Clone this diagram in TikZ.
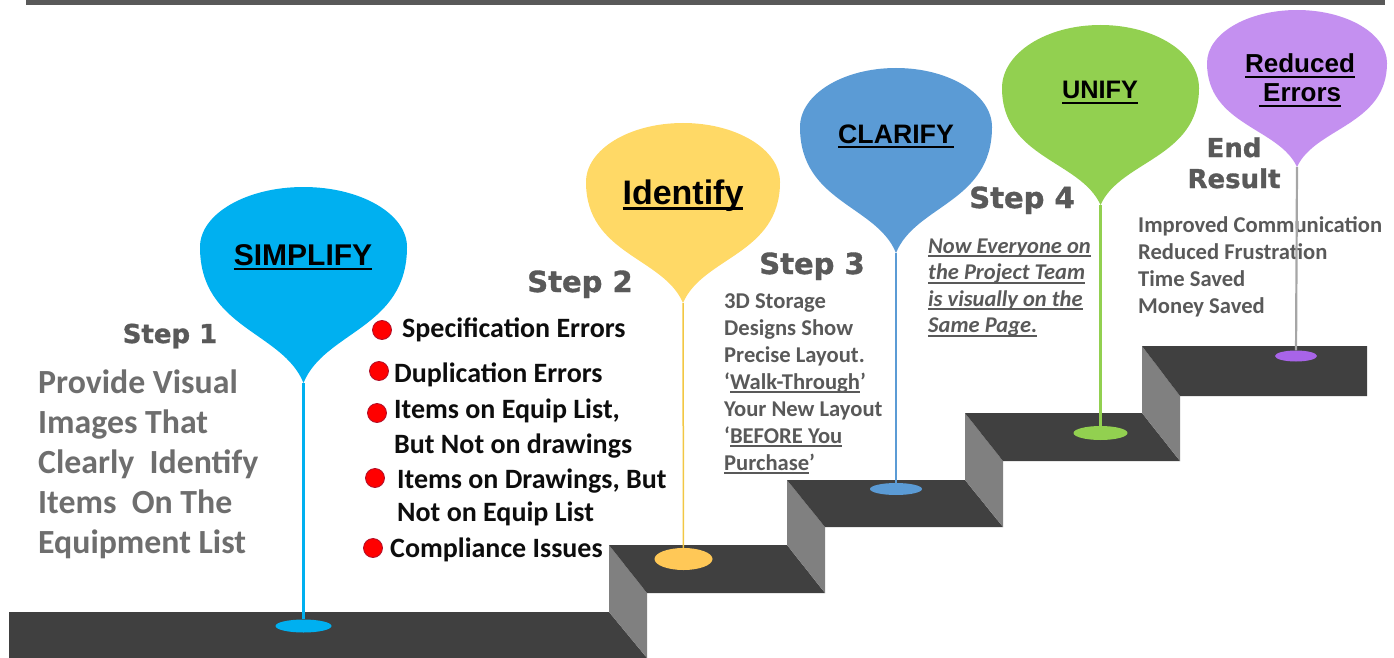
\documentclass[tikz,border=0pt]{standalone}
\usepackage{fontspec}
\setmainfont{Carlito}
\newfontfamily\stepfont{DejaVu Sans}[BoldFeatures={FakeBold=1.2}]
\newfontfamily\pinfont{Liberation Sans}
\usetikzlibrary{positioning,shapes.geometric}
\definecolor{pinsimplify}{HTML}{00B0F0}
\definecolor{pinidentify}{HTML}{FFD966}
\definecolor{spotidentify}{HTML}{FFC857}
\definecolor{stemidentify}{HTML}{F2C744}
\definecolor{pinclarify}{HTML}{5B9BD5}
\definecolor{pinunify}{HTML}{92D050}
\definecolor{pinreduced}{HTML}{C490F0}
\definecolor{spotreduced}{HTML}{A864E8}
\definecolor{stemreduced}{HTML}{A6A6A6}
\definecolor{stairtop}{HTML}{404040}
\definecolor{stairside}{HTML}{808080}
\definecolor{textgray}{HTML}{595959}
\definecolor{softgray}{HTML}{6E6E6E}
\definecolor{bulletred}{HTML}{FF0000}
\definecolor{bulletedge}{HTML}{B0102A}
% underline that scales with the font
\newcommand{\ulbar}[1]{\leavevmode\setbox0=\hbox{#1}\rlap{\vrule height -0.1em depth 0.18em width \wd0}\box0}
% teardrop pin: x, y of widest line, x radius, y radius, tip y, colour
\newcommand{\balloon}[6]{%
  \begin{scope}[shift={(#1,#2)}]
    \fill[#6] (0,{#5-#2}) .. controls ({0.2*#3},{0.62*(#5-#2)}) and (#3,{0.6*(#5-#2)}) .. (#3,0)
      arc[start angle=0, end angle=-180, x radius=#3, y radius=#4]
      .. controls (-#3,{0.6*(#5-#2)}) and ({-0.2*#3},{0.62*(#5-#2)}) .. (0,{#5-#2}) -- cycle;
  \end{scope}}

\begin{document}
\begin{tikzpicture}[x=1pt, y=-1pt,
  steplabel/.style={font=\stepfont\bfseries\fontsize{29}{31}\selectfont, text=textgray, inner sep=0pt},
  pinlabel/.style={text=black, inner sep=0pt, align=center},
  bodytext/.style={font=\bfseries\fontsize{22.6}{26.7}\selectfont, text=textgray, inner sep=0pt, align=left},
  bullettext/.style={font=\bfseries\fontsize{28}{34}\selectfont, text=black!95, inner sep=0pt, align=left},
  bulletdot/.style={circle, fill=bulletred, draw=bulletedge, line width=0.8pt, minimum size=19, inner sep=0pt},
  spot/.style={ellipse, inner sep=0pt},
  stem/.style={line width=2.2pt}]
  \useasboundingbox (0,0) rectangle (1394,658);
  \fill[textgray] (26,0) rectangle (1385,5);

  % stairs
  \fill[stairtop] (9,612) -- (609,612) -- (647,658) -- (9,658) -- cycle;
  \fill[stairside] (609,545) -- (647,593) -- (647,658) -- (609,612) -- cycle;
  \fill[stairtop] (609,545) -- (787,545) -- (825,593) -- (647,593) -- cycle;
  \fill[stairside] (787,480) -- (825,527) -- (825,593) -- (787,545) -- cycle;
  \fill[stairtop] (787,480) -- (965,480) -- (1003,527) -- (825,527) -- cycle;
  \fill[stairside] (965,413) -- (1003,461) -- (1003,527) -- (965,480) -- cycle;
  \fill[stairtop] (965,413) -- (1142,413) -- (1180,461) -- (1003,461) -- cycle;
  \fill[stairside] (1142,346) -- (1180,396) -- (1180,461) -- (1142,413) -- cycle;
  \fill[stairtop] (1142,346) -- (1367,346) -- (1367,396) -- (1180,396) -- cycle;

  % step texts (base = last line)
  \node[steplabel, anchor=base, font=\stepfont\bfseries\fontsize{26}{28}\selectfont] (step1) at (170,343) {Step 1};
  \node[bodytext, anchor=base west, text=softgray, font=\bfseries\fontsize{33.8}{40}\selectfont] (visual) at (38,553)
    {Provide Visual\\Images That\\Clearly~ Identify\\Items~ On The\\Equipment List};
  \node[steplabel, anchor=base] (step2) at (580,292) {Step 2};
  \node[bulletdot] (dot1) at (382,330) {};
  \node[bullettext, anchor=base west] (err1) at (402,337) {Specification Errors};
  \node[bulletdot] (dot2) at (379,371) {};
  \node[bullettext, anchor=base west] (err2) at (394,382) {Duplication Errors};
  \node[bulletdot] (dot3) at (377,413) {};
  \node[bullettext, anchor=base west, font=\bfseries\fontsize{28}{35}\selectfont] (err3) at (394,453) {Items on Equip List,\\But Not on drawings};
  \node[bulletdot] (dot4) at (375,478) {};
  \node[bullettext, anchor=base west, font=\bfseries\fontsize{28}{33}\selectfont] (err4) at (397,521) {Items on Drawings, But\\Not on Equip List};
  \node[bulletdot] (dot5) at (373,548) {};
  \node[bullettext, anchor=base west] (err5) at (390,557) {Compliance Issues};
  \node[steplabel, anchor=base] (step3) at (812,274) {Step 3};
  \node[bodytext, anchor=base west, font=\bfseries\fontsize{22.6}{27}\selectfont] (storage) at (724,470)
    {3D Storage\\Designs Show\\Precise Layout.\\`\ulbar{Walk-Through}'\\Your New Layout\\`\ulbar{BEFORE You}\\\ulbar{Purchase}'};
  \node[steplabel, anchor=base] (step4) at (1022,208) {Step 4};
  \node[bodytext, anchor=base west, font=\bfseries\itshape\fontsize{22.5}{26.5}\selectfont] (samepage) at (928,332.5)
    {\ulbar{Now Everyone on}\\\ulbar{the Project Team}\\\ulbar{is visually on the}\\\ulbar{Same Page.}};
  \node[steplabel, anchor=base, align=center, font=\stepfont\bfseries\fontsize{26}{31}\selectfont] (endres) at (1234,188) {End\\Result};
  \node[bodytext, anchor=base west] (gains) at (1138,313)
    {Improved Communication\\Reduced Frustration\\Time Saved\\Money Saved};

  % pins
  \balloon{303.5}{247}{103.5}{60}{383}{pinsimplify}
  \balloon{683}{182}{97}{59}{303}{pinidentify}
  \balloon{896}{127}{96}{59}{253}{pinclarify}
  \balloon{1100.5}{88}{98.5}{63}{205}{pinunify}
  \balloon{1297}{63}{90}{53}{167}{pinreduced}
  \coordinate (tip1) at (303.5,383);
  \coordinate (tip2) at (683,303);
  \coordinate (tip3) at (896,253);
  \coordinate (tip4) at (1100.5,205);
  \coordinate (tip5) at (1297,167);
  \node[spot, fill=pinsimplify, minimum width=56, minimum height=13] (spot1) at (303.5,626) {};
  \node[spot, fill=spotidentify, minimum width=58, minimum height=22] (spot2) at (683.5,559) {};
  \node[spot, fill=pinclarify, minimum width=52, minimum height=12] (spot3) at (896,489) {};
  \node[spot, fill=pinunify, minimum width=54, minimum height=14] (spot4) at (1100.5,433) {};
  \node[spot, fill=spotreduced, minimum width=42, minimum height=11] (spot5) at (1296,356) {};
  \draw[stem, pinsimplify] (tip1) -- (spot1);
  \draw[stem, stemidentify, line width=1.5pt] (tip2) -- (spot2);
  \draw[stem, pinclarify] (tip3) -- (spot3);
  \draw[stem, pinunify] (tip4) -- (spot4);
  \draw[stem, stemreduced] (tip5) -- (spot5);

  % pin labels
  \node[pinlabel, anchor=base, font=\pinfont\bfseries\fontsize{30}{32}\selectfont] (simplify) at (303,265) {\ulbar{SIMPLIFY}};
  \node[pinlabel, anchor=base, font=\pinfont\bfseries\fontsize{34}{36}\selectfont] (identify) at (683,204) {\ulbar{Identify}};
  \node[pinlabel, anchor=base, font=\pinfont\bfseries\fontsize{26.7}{28}\selectfont] (clarify) at (896,143) {\ulbar{CLARIFY}};
  \node[pinlabel, anchor=base, font=\pinfont\bfseries\fontsize{25.3}{28}\selectfont] (unify) at (1100,99) {\ulbar{UNIFY}};
  \node[pinlabel, anchor=base, font=\pinfont\bfseries\fontsize{26}{29}\selectfont] (reduced) at (1300,102) {\ulbar{Reduced}\\\ulbar{\,Errors}};
\end{tikzpicture}
\end{document}
